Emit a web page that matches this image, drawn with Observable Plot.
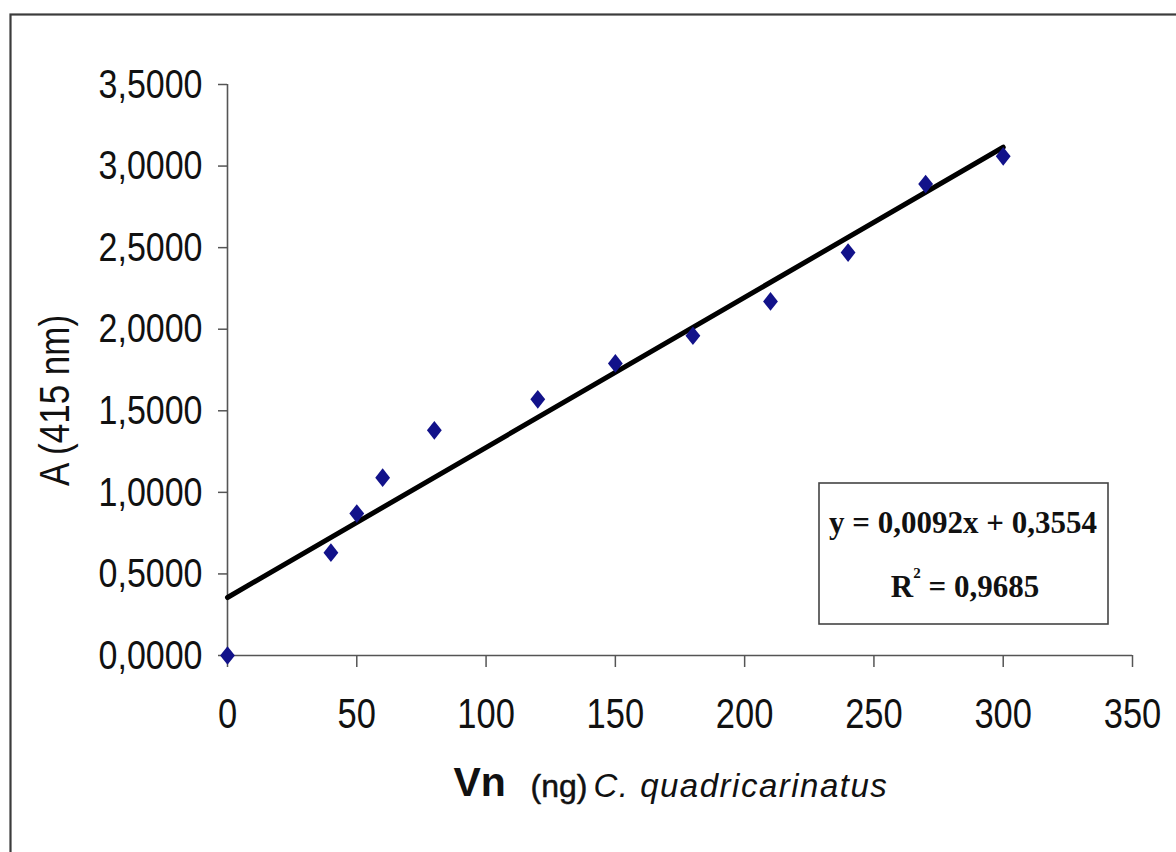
<!DOCTYPE html>
<html>
<head>
<meta charset="utf-8">
<script src="https://cdn.jsdelivr.net/npm/d3@7"></script>
<script src="https://cdn.jsdelivr.net/npm/@observablehq/plot@0.6"></script>
<style>
  html, body { margin: 0; padding: 0; background: #fff; }
  #chart { width: 1176px; height: 852px; overflow: hidden; }
</style>
</head>
<body>
<div id="chart"></div>
<script>
// ---- data ----
const vnNg = [0, 40, 50, 60, 80, 120, 150, 180, 210, 240, 270, 300];
const absorbance = [0.00, 0.63, 0.87, 1.09, 1.38, 1.57, 1.79, 1.96, 2.17, 2.47, 2.89, 3.06];
const xTicks = [0, 50, 100, 150, 200, 250, 300, 350];
const yTicks = [0, 0.5, 1.0, 1.5, 2.0, 2.5, 3.0, 3.5];
const trendSlope = [0.0092];
const trendIntercept = [0.3554];
const trendRange = [0, 300];
const equationText = ["y = 0,0092x + 0,3554"];
const r2Value = ["0,9685"];
const yLabel = ["A (415 nm)"];
const xTitleParts = ["Vn", "(ng)", "C. quadricarinatus"];

const points = vnNg.map((x, i) => ({x, y: absorbance[i]}));
const trend = trendRange.map(x => ({x, y: trendSlope[0] * x + trendIntercept[0]}));
const fmt = d => d.toFixed(4).replace(".", ",");

const diamond = {
  draw(ctx, size) {
    const s = Math.sqrt(size / Math.PI);
    ctx.moveTo(0, -s * 1.2);
    ctx.lineTo(s * 0.95, 0);
    ctx.lineTo(0, s * 1.2);
    ctx.lineTo(-s * 0.95, 0);
    ctx.closePath();
  }
};

const axisColor = "#555";
const W = 1176, H = 852;
const mL = 227, mR = 44, mT = 84, mB = 197;

const plot = Plot.plot({
  width: W, height: H,
  marginLeft: mL, marginRight: mR, marginTop: mT, marginBottom: mB,
  style: {background: "#fff", fontFamily: "'Liberation Sans', Arial, sans-serif", color: "#000"},
  x: {domain: [0, 350]},
  y: {domain: [0, 3.5]},
  marks: [
    Plot.axisY({ticks: yTicks, tickSize: 9, tickPadding: 16, tickFormat: fmt, fontSize: 34,
      stroke: axisColor, strokeWidth: 1.5, label: null, fill: "#111"}),
    Plot.axisX({ticks: xTicks, tickSize: 12, tickPadding: 30, tickFormat: d => String(d), fontSize: 34.5,
      stroke: axisColor, strokeWidth: 1.5, label: null, fill: "#111"}),
    Plot.ruleX([0], {stroke: axisColor, strokeWidth: 1.6}),
    Plot.ruleY([0], {stroke: axisColor, strokeWidth: 1.6}),
    Plot.line(trend, {x: "x", y: "y", stroke: "#000", strokeWidth: 5}),
    Plot.dot(points, {x: "x", y: "y", symbol: diamond, r: 7.8, fill: "#12128a", stroke: "none"}),
    Plot.text(yLabel, {text: d => d, frameAnchor: "left", textAnchor: "middle", rotate: -90,
      dx: -172, dy: 30.5, fontSize: 35, fill: "#111"}),
    Plot.text([xTitleParts[0]], {text: d => d, frameAnchor: "bottom-left", textAnchor: "start",
      dx: 226, dy: 140, fontSize: 41, fontWeight: "bold", fill: "#111"}),
    Plot.text([xTitleParts[1]], {text: d => d, frameAnchor: "bottom-left", textAnchor: "start",
      dx: 303, dy: 141.5, fontSize: 32, fill: "#111", stroke: "#111", strokeWidth: 0.5}),
    Plot.text([xTitleParts[2]], {text: d => d, frameAnchor: "bottom-left", textAnchor: "start",
      dx: 366, dy: 141.5, fontSize: 33, fontStyle: "italic", fill: "#111"})
  ]
});

document.getElementById("chart").appendChild(plot);

// vertically stretch tick labels and y label like the reference
const svg = d3.select(plot);
svg.selectAll('g[aria-label="y-axis tick label"] text').each(function() {
  const t = this.getAttribute("transform") || "";
  this.setAttribute("transform", t + " scale(1,1.22)");
});
svg.selectAll('g[aria-label="x-axis tick label"] text').each(function() {
  const t = this.getAttribute("transform") || "";
  this.setAttribute("transform", t + " scale(1,1.24)");
});
const textGroups = svg.selectAll('g[aria-label="text"]').nodes();
if (textGroups[0]) d3.select(textGroups[0]).selectAll("text").each(function() {
  const t = this.getAttribute("transform") || "";
  this.setAttribute("transform", t + " scale(1,1.2)");
});
if (textGroups[3]) d3.select(textGroups[3]).selectAll("text").attr("letter-spacing", "1.5px");

// outer frame
svg.append("rect")
  .attr("x", 10.5).attr("y", 14.5).attr("width", 1300).attr("height", 1000)
  .attr("fill", "none").attr("stroke", "#3c3c3c").attr("stroke-width", 2.2);

// equation box
const box = svg.append("g");
box.append("rect").attr("x", 819).attr("y", 483).attr("width", 289).attr("height", 141)
  .attr("fill", "#fff").attr("stroke", "#444").attr("stroke-width", 1.6);
box.append("text").attr("x", 963).attr("y", 533).attr("text-anchor", "middle")
  .attr("font-family", "'Liberation Serif', 'Times New Roman', serif").attr("font-weight", "bold")
  .attr("font-size", 31).attr("fill", "#111").text(equationText[0]);
const r2 = box.append("text").attr("x", 965).attr("y", 597).attr("text-anchor", "middle")
  .attr("font-family", "'Liberation Serif', 'Times New Roman', serif").attr("font-weight", "bold")
  .attr("font-size", 31).attr("fill", "#111");
r2.append("tspan").text("R");
r2.append("tspan").attr("font-size", 15).attr("dy", -19).text("2");
r2.append("tspan").attr("dy", 19).text(" = " + r2Value[0]);
</script>
</body>
</html>
